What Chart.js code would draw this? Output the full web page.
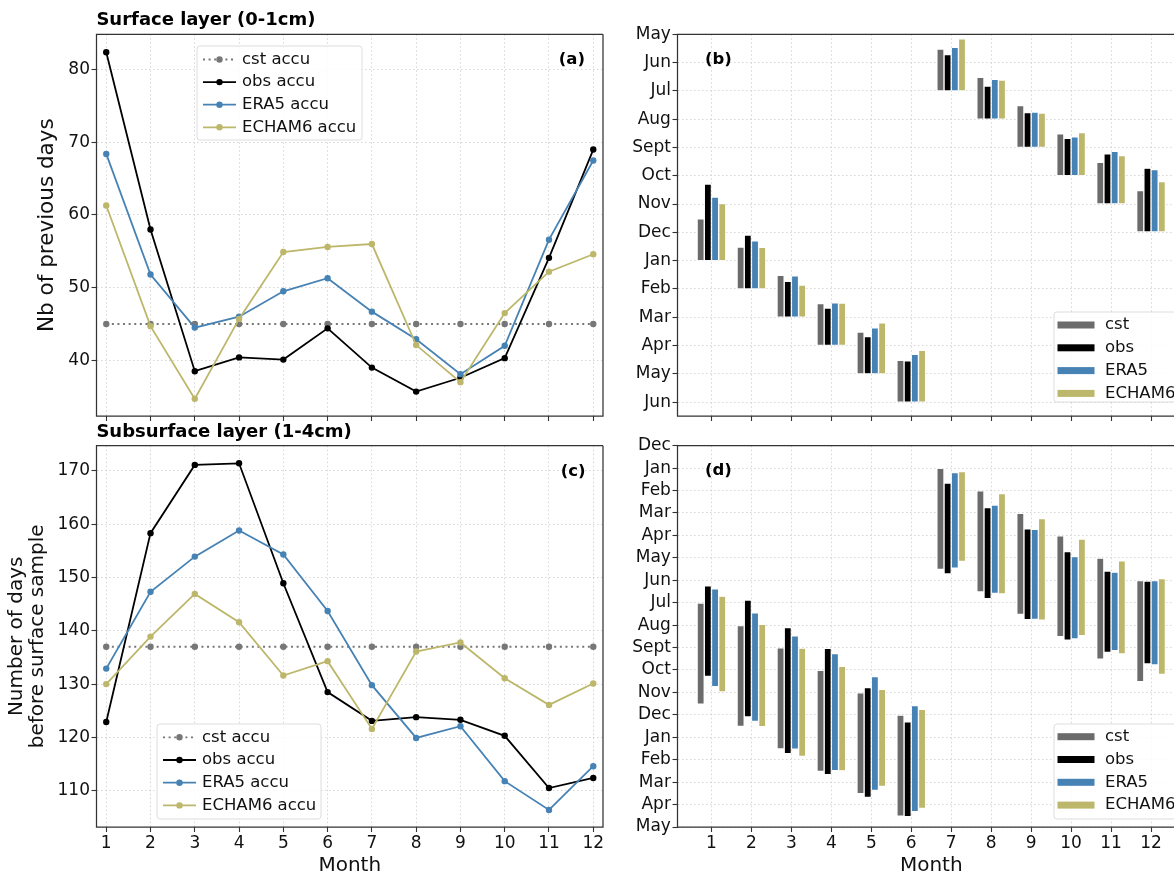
<!DOCTYPE html>
<html>
<head>
<meta charset="utf-8">
<script src="https://cdn.jsdelivr.net/npm/chart.js@4.4.1/dist/chart.umd.min.js"></script>
<style>
  html, body { margin: 0; padding: 0; background: #fff; overflow: hidden; }
  #wrap { position: relative; width: 1174px; height: 875px; overflow: hidden; }
  canvas { position: absolute; left: 0; top: 0; }
</style>
</head>
<body>
<div id="wrap">
  <canvas id="chartA" width="1200" height="875"></canvas>
  <canvas id="chartB" width="1200" height="875"></canvas>
  <canvas id="chartC" width="1200" height="875"></canvas>
  <canvas id="chartD" width="1200" height="875"></canvas>
</div>
<script>
// months and tick labels
const months = [1, 2, 3, 4, 5, 6, 7, 8, 9, 10, 11, 12];
const monthNames = ["Jan", "Feb", "Mar", "Apr", "May", "Jun", "Jul", "Aug", "Sept", "Oct", "Nov", "Dec"];
const surfTicks = [40, 50, 60, 70, 80];
const subTicks = [110, 120, 130, 140, 150, 160, 170];
const ticksB = [-7, -6, -5, -4, -3, -2, -1, 0, 1, 2, 3, 4, 5, 6];          // May ... Jun
const ticksD = [-12, -11, -10, -9, -8, -7, -6, -5, -4, -3, -2, -1, 0, 1, 2, 3, 4, 5]; // Dec ... May

// surface layer (0-1cm): nb of previous days
const surfCst   = [45, 45, 45, 45, 45, 45, 45, 45, 45, 45, 45, 45];
const surfObs   = [82.4, 58.0, 38.5, 40.4, 40.1, 44.4, 39.0, 35.7, 37.6, 40.3, 54.1, 69.0];
const surfEra5  = [68.4, 51.8, 44.5, 46.0, 49.5, 51.3, 46.7, 42.9, 38.1, 42.0, 56.6, 67.5];
const surfEcham = [61.3, 44.7, 34.7, 45.7, 54.9, 55.6, 56.0, 42.1, 37.0, 46.5, 52.2, 54.6];

// subsurface layer (1-4cm): nb of days before surface sample
const subCst   = [137, 137, 137, 137, 137, 137, 137, 137, 137, 137, 137, 137];
const subObs   = [122.9, 158.3, 171.1, 171.4, 148.9, 128.5, 123.1, 123.8, 123.3, 120.3, 110.5, 112.4];
const subEra5  = [132.9, 147.3, 153.9, 158.8, 154.3, 143.7, 129.8, 119.9, 122.1, 111.8, 106.4, 114.6];
const subEcham = [130.0, 138.9, 146.9, 141.6, 131.6, 134.3, 121.6, 136.1, 137.8, 131.1, 126.1, 130.1];

const DAYS_PER_MONTH = 30.4;
const FONT = "DejaVu Sans";
const COL = { cst: "#6b6b6b", cstLine: "#777777", obs: "#000000", era5: "#4682b4", echam: "#bdb76b" };

Chart.defaults.font.family = FONT;
Chart.defaults.color = "#111";

function monthName(v) { return monthNames[(((v - 1) % 12) + 12) % 12]; }
function baseMonth(m) { return m <= 6 ? m : m - 12; }

// bar ranges (in months) for panel b and d
function surfRange(vals) {
    return months.map((m, i) => [baseMonth(m), baseMonth(m) - vals[i] / DAYS_PER_MONTH]);
}
function subRange(surf, sub) {
    return months.map((m, i) => {
        const start = baseMonth(m) - surf[i] / DAYS_PER_MONTH;
        return [start, start - sub[i] / DAYS_PER_MONTH];
    });
}

function gridOpts() {
    return { color: "#cccccc", lineWidth: 0.8, tickColor: "#333", tickLength: 5, tickWidth: 1.1, tickBorderDash: [] };
}
function borderOpts() { return { display: false, dash: [1.5, 2.5] }; }

function lineDataset(label, values, color, dotted, order) {
    return {
        label: label,
        data: months.map((m, i) => ({ x: m, y: values[i] })),
        borderColor: color, backgroundColor: color,
        pointBackgroundColor: color, pointBorderColor: color,
        borderWidth: 1.8, pointRadius: 3.2, pointBorderWidth: 0,
        borderDash: dotted ? [2, 3.6] : [],
        tension: 0, order: order
    };
}
function barDataset(label, ranges, color) {
    return {
        label: label,
        data: months.map((m, i) => ({ x: m, y: ranges[i] })),
        backgroundColor: color, borderColor: "#ffffff", borderWidth: 0.7, borderSkipped: false,
        categoryPercentage: 0.72, barPercentage: 1.0
    };
}

// frame, titles, panel letter and legend drawn on top
function decor(cfg) {
    return {
        id: "decor",
        afterDraw(chart) {
            const ctx = chart.ctx, a = chart.chartArea;
            ctx.save();
            ctx.strokeStyle = "#333"; ctx.lineWidth = 1.25;
            ctx.beginPath();
            ctx.moveTo(a.right, a.top); ctx.lineTo(a.left, a.top);
            ctx.lineTo(a.left, a.bottom); ctx.lineTo(a.right, a.bottom);
            ctx.lineTo(a.right, a.top);
            ctx.stroke();

            ctx.fillStyle = "#000"; ctx.textBaseline = "middle";
            if (cfg.title) {
                ctx.font = "bold 18px '" + FONT + "'"; ctx.textAlign = "left";
                ctx.fillText(cfg.title, 96.4, cfg.titleY);
            }
            ctx.font = "bold 16.5px '" + FONT + "'";
            ctx.textAlign = cfg.labelAlign;
            ctx.fillText(cfg.label, cfg.labelX, cfg.labelY);

            // legend
            const L = cfg.legend;
            ctx.fillStyle = "rgba(255,255,255,0.85)";
            ctx.strokeStyle = "#dddddd"; ctx.lineWidth = 1;
            ctx.beginPath();
            ctx.roundRect(L.x, L.y, L.w, L.h, 3);
            ctx.fill(); ctx.stroke();
            ctx.font = "16.5px '" + FONT + "'"; ctx.textAlign = "left";
            chart.data.datasets.forEach((ds, i) => {
                const y = L.y + L.first + i * L.step;
                if (cfg.bars) {
                    ctx.fillStyle = ds.backgroundColor;
                    ctx.fillRect(L.x + 3.5, y - 3.5, 37, 7);
                } else {
                    const col = ds.borderColor;
                    ctx.strokeStyle = col; ctx.lineWidth = 1.8;
                    ctx.setLineDash(ds.borderDash || []);
                    ctx.beginPath(); ctx.moveTo(L.x + 6, y); ctx.lineTo(L.x + 39, y); ctx.stroke();
                    ctx.setLineDash([]);
                    ctx.fillStyle = col;
                    ctx.beginPath(); ctx.arc(L.x + 22.5, y, 3.2, 0, Math.PI * 2); ctx.fill();
                }
                ctx.fillStyle = "#111";
                ctx.fillText(ds.label, L.x + L.textDx, y);
            });
            ctx.restore();
        }
    };
}

function lineChart(id, datasets, yMin, yMax, yTicks, pad, xLabels, yTitle, deco) {
    return new Chart(document.getElementById(id), {
        type: "line",
        data: { datasets: datasets },
        options: {
            responsive: false, animation: false,
            layout: { padding: pad },
            plugins: { legend: { display: false }, tooltip: { enabled: false } },
            scales: {
                x: {
                    type: "linear", min: 0.78, max: 12.22,
                    grid: gridOpts(), border: borderOpts(),
                    afterBuildTicks: s => { s.ticks = months.map(v => ({ value: v })); },
                    afterFit: s => { s.height = xLabels ? 48 : 20; },
                    ticks: { font: { size: 17 }, padding: 1, autoSkip: false, maxRotation: 0, callback: v => xLabels ? String(v) : "" },
                    title: { display: xLabels, text: "Month", font: { size: 20, lineHeight: 1.2 }, padding: { top: 0, bottom: -3 }, color: "#111" }
                },
                y: {
                    type: "linear", min: yMin, max: yMax,
                    grid: gridOpts(), border: borderOpts(),
                    afterBuildTicks: s => { s.ticks = yTicks.map(v => ({ value: v })); },
                    afterFit: s => { s.width = 96.5; },
                    ticks: { font: { size: 17 }, padding: 1.5, autoSkip: false },
                    title: yTitle
                }
            }
        },
        plugins: [decor(deco)]
    });
}

function barChart(id, datasets, yMin, yMax, yTicks, pad, xLabels, deco) {
    return new Chart(document.getElementById(id), {
        type: "bar",
        data: { datasets: datasets },
        options: {
            responsive: false, animation: false,
            layout: { padding: pad },
            plugins: { legend: { display: false }, tooltip: { enabled: false } },
            scales: {
                x: {
                    type: "linear", min: 0.15, max: 12.85, offset: false,
                    grid: Object.assign(gridOpts(), { offset: false }), border: borderOpts(),
                    afterBuildTicks: s => { s.ticks = months.map(v => ({ value: v })); },
                    afterFit: s => { s.height = xLabels ? 48 : 20; },
                    ticks: { font: { size: 17 }, padding: 1, autoSkip: false, maxRotation: 0, callback: v => xLabels ? String(v) : "" },
                    title: { display: xLabels, text: "Month", font: { size: 20, lineHeight: 1.2 }, padding: { top: 0, bottom: -3 }, color: "#111" }
                },
                y: {
                    type: "linear", reverse: true, min: yMin, max: yMax,
                    grid: gridOpts(), border: borderOpts(),
                    afterBuildTicks: s => { s.ticks = yTicks.map(v => ({ value: v })); },
                    afterFit: s => { s.width = 677.5; },
                    ticks: { font: { size: 17 }, padding: 1.6, autoSkip: false, callback: v => monthName(v) }
                }
            }
        },
        plugins: [decor(Object.assign({ bars: true }, deco))]
    });
}

// (a) surface layer
lineChart("chartA", [
    lineDataset("cst accu", surfCst, COL.cstLine, true, 3),
    lineDataset("obs accu", surfObs, COL.obs, false, 2),
    lineDataset("ERA5 accu", surfEra5, COL.era5, false, 1),
    lineDataset("ECHAM6 accu", surfEcham, COL.echam, false, 0)
], 32.34, 84.86, surfTicks, { left: 0, top: 34.3, right: 1200 - 603, bottom: 875 - 416 - 20 }, false,
{ display: true, text: "Nb of previous days", font: { size: 21.5, lineHeight: 1.2 }, padding: { top: 35, bottom: 0 }, color: "#111" },
{ title: "Surface layer (0-1cm)", titleY: 20.7, label: "(a)", labelAlign: "right", labelX: 585, labelY: 59.3,
  legend: { x: 197, y: 46, w: 165, h: 94, first: 13.5, step: 22.6, textDx: 45 } });

// (b) surface layer sampling periods
barChart("chartB", [
    barDataset("cst", surfRange(surfCst), COL.cst),
    barDataset("obs", surfRange(surfObs), COL.obs),
    barDataset("ERA5", surfRange(surfEra5), COL.era5),
    barDataset("ECHAM6", surfRange(surfEcham), COL.echam)
], -7, 6.49, ticksB, { left: 0, top: 34.3, right: 1200 - 1185, bottom: 875 - 416 - 20 }, false,
{ label: "(b)", labelAlign: "left", labelX: 705, labelY: 59.3,
  legend: { x: 1054, y: 312, w: 140, h: 90, first: 13, step: 22.8, textDx: 51 } });

// (c) subsurface layer
lineChart("chartC", [
    lineDataset("cst accu", subCst, COL.cstLine, true, 3),
    lineDataset("obs accu", subObs, COL.obs, false, 2),
    lineDataset("ERA5 accu", subEra5, COL.era5, false, 1),
    lineDataset("ECHAM6 accu", subEcham, COL.echam, false, 0)
], 103.2, 174.7, subTicks, { left: 0, top: 445.7, right: 1200 - 603, bottom: 0 }, true,
{ display: true, text: ["Number of days", "before surface sample"], font: { size: 20, lineHeight: 1.05 }, padding: { top: 6.5, bottom: 0 }, color: "#111" },
{ title: "Subsurface layer (1-4cm)", titleY: 432.7, label: "(c)", labelAlign: "right", labelX: 585.5, labelY: 471.7,
  legend: { x: 157, y: 724, w: 164, h: 95, first: 13.3, step: 22.7, textDx: 45 } });

// (d) subsurface layer sampling periods
barChart("chartD", [
    barDataset("cst", subRange(surfCst, subCst), COL.cst),
    barDataset("obs", subRange(surfObs, subObs), COL.obs),
    barDataset("ERA5", subRange(surfEra5, subEra5), COL.era5),
    barDataset("ECHAM6", subRange(surfEcham, subEcham), COL.echam)
], -12, 5, ticksD, { left: 0, top: 445.7, right: 1200 - 1185, bottom: 0 }, true,
{ label: "(d)", labelAlign: "left", labelX: 705, labelY: 470.7,
  legend: { x: 1054, y: 724, w: 140, h: 95, first: 12.7, step: 22.8, textDx: 51 } });
</script>
</body>
</html>
